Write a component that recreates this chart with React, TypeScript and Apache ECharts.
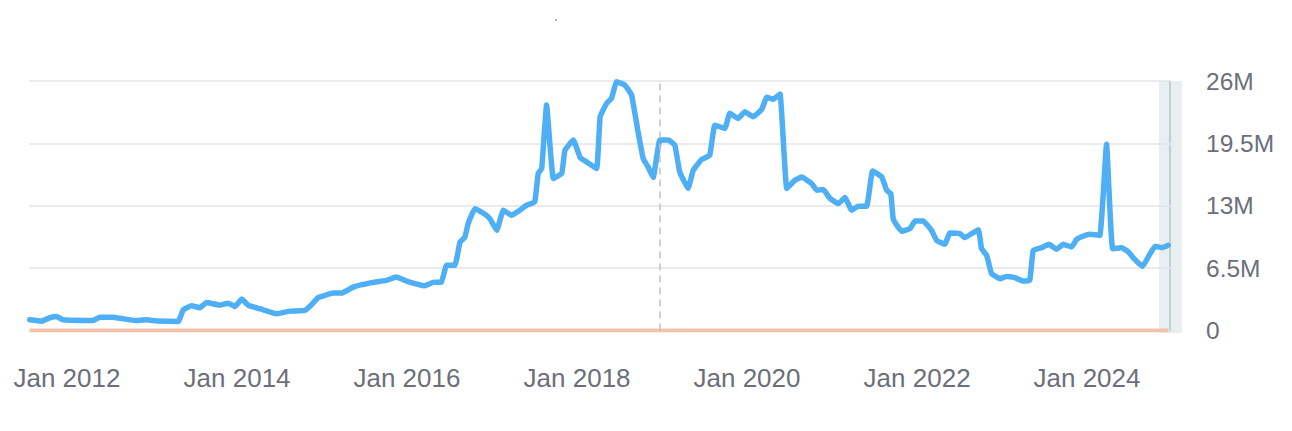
import React, { useEffect, useRef } from "react";
import * as echarts from "echarts";

// Main series (values in millions)
const dates = [
  "2011-07-25", "2011-09-13", "2011-10-19", "2011-11-17", "2011-12-16",
  "2012-04-22", "2012-05-21", "2012-07-17", "2012-10-20", "2012-12-09",
  "2013-01-21", "2013-04-23", "2013-05-15", "2013-06-20", "2013-07-25",
  "2013-08-23", "2013-10-19", "2013-11-24", "2013-12-23", "2014-01-21",
  "2014-02-18", "2014-04-23", "2014-06-20", "2014-08-16", "2014-10-19",
  "2014-11-17", "2014-12-15", "2015-02-18", "2015-03-26", "2015-05-15",
  "2015-06-27", "2015-08-08", "2015-10-04", "2015-11-17", "2015-12-30",
  "2016-03-17", "2016-04-22", "2016-05-28", "2016-06-19", "2016-07-25",
  "2016-08-16", "2016-09-06", "2016-09-20", "2016-10-19", "2016-12-01",
  "2016-12-22", "2017-01-21", "2017-02-18", "2017-03-26", "2017-04-30",
  "2017-05-29", "2017-07-03", "2017-07-18", "2017-08-02", "2017-08-23",
  "2017-09-21", "2017-10-27", "2017-11-10", "2017-12-16", "2018-01-14",
  "2018-02-11", "2018-03-26", "2018-04-10", "2018-05-08", "2018-05-29",
  "2018-06-20", "2018-07-25", "2018-08-23", "2018-09-20", "2018-10-12",
  "2018-11-02", "2018-11-24", "2018-12-23", "2019-01-28", "2019-02-25",
  "2019-03-18", "2019-04-23", "2019-05-15", "2019-06-20", "2019-07-25",
  "2019-08-16", "2019-09-28", "2019-10-19", "2019-11-24", "2019-12-23",
  "2020-01-27", "2020-03-04", "2020-03-26", "2020-04-23", "2020-05-22",
  "2020-06-20", "2020-07-25", "2020-08-23", "2020-10-05", "2020-10-27",
  "2020-11-24", "2020-12-23", "2021-01-28", "2021-02-25", "2021-03-26",
  "2021-04-23", "2021-05-29", "2021-06-24", "2021-08-02", "2021-08-23",
  "2021-09-10", "2021-09-21", "2021-10-27", "2021-12-02", "2021-12-23",
  "2022-01-27", "2022-03-04", "2022-03-26", "2022-04-30", "2022-05-22",
  "2022-07-04", "2022-07-25", "2022-09-21", "2022-10-05", "2022-10-27",
  "2022-11-17", "2022-12-23", "2023-01-21", "2023-02-25", "2023-04-02",
  "2023-04-30", "2023-05-15", "2023-06-20", "2023-07-22", "2023-08-23",
  "2023-09-21", "2023-10-27", "2023-11-17", "2023-12-15", "2024-01-13",
  "2024-02-25", "2024-03-25", "2024-04-20", "2024-05-29", "2024-06-27",
  "2024-07-25", "2024-08-27", "2024-09-20", "2024-10-19", "2024-11-17",
  "2024-12-15",
];

const values = [
  1.11, 0.97, 1.32, 1.46, 1.11,
  1.04, 1.39, 1.39, 1.04, 1.11,
  1.0, 0.94, 2.16, 2.58, 2.37,
  2.92, 2.64, 2.85, 2.51, 3.27,
  2.64, 2.16, 1.74, 2.02, 2.09,
  2.68, 3.41, 3.9, 3.9, 4.52,
  4.8, 5.01, 5.22, 5.57, 5.15,
  4.67, 5.01, 5.04, 6.79, 6.79,
  9.22, 9.74, 11.14, 12.7, 12.11,
  11.66, 10.44, 12.53, 12.0, 12.53,
  13.05, 13.4, 16.36, 16.88, 23.5,
  15.84, 16.36, 18.8, 19.84, 18.03,
  17.57, 16.88, 22.27, 23.67, 24.2,
  25.93, 25.58, 24.54, 20.71, 17.93,
  17.05, 15.94, 19.84, 19.84, 19.32,
  16.53, 14.8, 16.7, 17.82, 18.27,
  21.4, 21.06, 22.63, 22.1, 22.8,
  22.27, 23.04, 24.3, 24.09, 24.64,
  14.8, 15.66, 16.0, 15.32, 14.62,
  14.69, 13.75, 13.23, 13.86, 12.53,
  12.95, 12.95, 16.63, 16.0, 14.62,
  14.27, 11.56, 10.34, 10.62, 11.41,
  11.41, 10.44, 9.4, 8.98, 10.16,
  10.1, 9.68, 10.51, 8.53, 7.83,
  5.92, 5.4, 5.64, 5.5, 5.15,
  5.22, 8.35, 8.63, 8.98, 8.46,
  8.98, 8.7, 9.47, 9.82, 10.02,
  9.92, 19.42, 8.53, 8.63, 8.18,
  7.38, 6.68, 7.65, 8.77, 8.63,
  8.88,
];

// Secondary flat series
const baselineDates = ["2011-07-25", "2024-12-15"];
const baselineValues = [0, 0];

// Axis settings
const yMin = 0;
const yMax = 26;
const yInterval = 6.5;
const xLabelYears = [2012, 2014, 2016, 2018, 2020, 2022, 2024];
const xStart = "2011-07-22";
const xEnd = "2024-12-27";
const markerDate = "2018-12-24";

const toTime = (s: string) => {
  const [y, m, d] = s.split("-").map(Number);
  return Date.UTC(y, m - 1, d);
};

const FONT = "'Liberation Sans', Helvetica, Arial, sans-serif";

export default function App() {
  const ref = useRef<HTMLDivElement>(null);

  useEffect(() => {
    if (!ref.current) return;
    const chart = echarts.init(ref.current, undefined, { renderer: "svg" });

    const option: any = {
      animation: false,
      backgroundColor: "#ffffff",
      grid: { left: 29, right: 121, top: 81, bottom: 100.5, containLabel: false },
      xAxis: {
        type: "value",
        min: toTime(xStart),
        max: toTime(xEnd),
        axisLine: { show: false },
        axisTick: { show: false },
        splitLine: { show: false },
        axisLabel: {
          customValues: xLabelYears.map((y) => Date.UTC(y, 0, 1)),
          formatter: (v: number) => "Jan " + new Date(v).getUTCFullYear(),
          color: "#6c6f7a",
          fontSize: 26,
          fontFamily: FONT,
          margin: 34,
          hideOverlap: false,
          showMinLabel: true,
          showMaxLabel: true,
        },
      },
      yAxis: {
        type: "value",
        position: "right",
        min: yMin,
        max: yMax,
        interval: yInterval,
        axisLine: { show: false },
        axisTick: { show: false },
        splitLine: { lineStyle: { color: "#e3e3ea", width: 1.5 } },
        axisLabel: {
          align: "left",
          margin: 35,
          color: "#6c6f7a",
          fontSize: 24.5,
          fontFamily: FONT,
          formatter: (v: number) => (v === 0 ? "0" : v + "M"),
        },
      },
      graphic: {
        elements: [
          {
            type: "rect",
            z: 0,
            shape: { x: 1159, y: 81, width: 23, height: 252 },
            style: { fill: "#e9eef0" },
          },
          {
            type: "line",
            z: 0,
            shape: { x1: 1170, y1: 81, x2: 1170, y2: 332 },
            style: { stroke: "#c4ced1", lineWidth: 2 },
          },
          {
            type: "circle",
            z: 0,
            shape: { cx: 556, cy: 20, r: 1.1 },
            style: { fill: "#a8a8a8" },
          },
        ],
      },
      series: [
        {
          type: "line",
          z: 2,
          data: baselineDates.map((d, i) => [toTime(d), baselineValues[i]]),
          showSymbol: false,
          lineStyle: { color: "#f4c1a9", width: 4 },
          silent: true,
        },
        {
          type: "line",
          z: 3,
          data: dates.map((d, i) => [toTime(d), values[i]]),
          showSymbol: false,
          smooth: 0.1,
          lineStyle: { color: "#4eaff4", width: 5.5, join: "round", cap: "round" },
          silent: true,
          markLine: {
            silent: true,
            symbol: ["none", "none"],
            label: { show: false },
            lineStyle: { color: "#c2c2c2", type: [7, 5], width: 1.5 },
            data: [{ xAxis: toTime(markerDate) }],
          },
        },
      ],
    };

    chart.setOption(option);
    return () => chart.dispose();
  }, []);

  return (
    <div
      ref={ref}
      style={{ position: "fixed", left: 0, top: 0, width: 1292, height: 431, background: "#fff" }}
    />
  );
}
